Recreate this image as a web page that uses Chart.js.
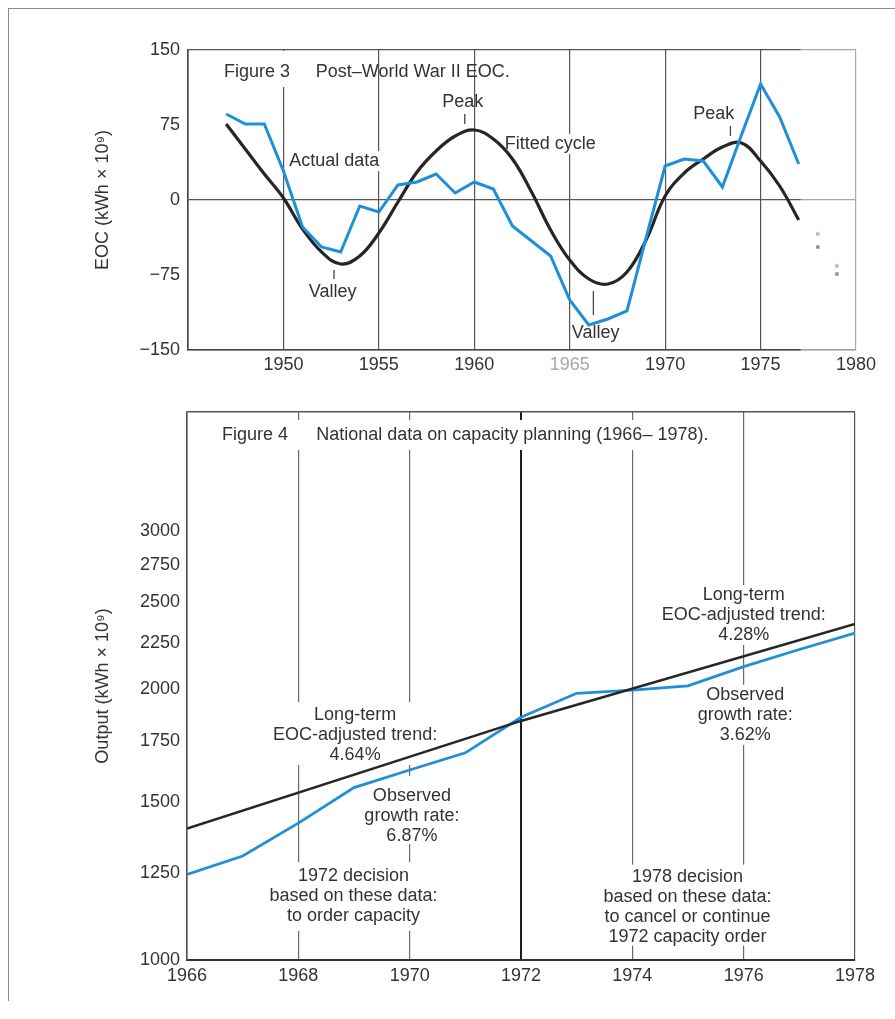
<!DOCTYPE html>
<html>
<head>
<meta charset="utf-8">
<script src="https://cdn.jsdelivr.net/npm/chart.js@4"></script>
<style>
  html, body { margin: 0; padding: 0; background: #fff; }
  body { width: 895px; height: 1019px; position: relative; overflow: hidden; }
  #frame { position: absolute; left: 8px; top: 8px; width: 900px; height: 992px;
           border-top: 1.5px solid #8c8c8c; border-left: 1.5px solid #8c8c8c; }
  #eocWrap { position: absolute; left: 0; top: 0; width: 895px; height: 390px; }
  #outWrap { position: absolute; left: 0; top: 390px; width: 895px; height: 629px; }
  canvas { display: block; }
</style>
</head>
<body>
<div id="frame"></div>
<div id="eocWrap"><canvas id="eoc" width="895" height="390"></canvas></div>
<div id="outWrap"><canvas id="output" width="895" height="629"></canvas></div>
<script>
// ---- Figure 3: excess output capacity (EOC), actual vs fitted cycle ----
const eocYears = [1947, 1948, 1949, 1950, 1951, 1952, 1953, 1954, 1955, 1956, 1957,
                  1958, 1959, 1960, 1961, 1962, 1963, 1964, 1965, 1966, 1967, 1968,
                  1969, 1970, 1971, 1972, 1973, 1974, 1975, 1976, 1977];
const eocActual = [86, 76, 76, 29, -27, -47, -52, -6, -12, 15, 18,
                   26, 7, 18, 11, -26, -41, -56, -100, -125, -119, -111,
                   -38, 34, 41, 39, 13, 65, 116, 83, 36];
const eocFitted = [76, 51, 26, 2, -29, -52, -64, -56, -33, -2, 28,
                   49, 64, 70, 61, 41, 8, -30, -60, -79, -84, -72,
                   -40, 4, 27, 41, 53, 57, 39, 14, -20];
const eocLaterYears = [1978, 1979];
const eocLaterActual = [-34, -66];
const eocLaterFitted = [-47, -74];
const eocYTicks = [-150, -75, 0, 75, 150];
const eocXTicks = [1945, 1950, 1955, 1960, 1965, 1970, 1975, 1980];

// ---- Figure 4: national output, observed vs long-term trend ----
const outYears = [1966, 1967, 1968, 1969, 1970, 1971, 1972, 1973, 1974, 1975, 1976, 1977, 1978];
const outObserved = [1245, 1305, 1420, 1555, 1627, 1700, 1862, 1980, 1996, 2018, 2120, 2215, 2310];
const trendYears = [1966, 1972, 1978];
const trendValues = [1400, 1845, 2365];
const outYTicks = [1000, 1250, 1500, 1750, 2000, 2250, 2500, 2750, 3000];
const outXTicks = [1966, 1968, 1970, 1972, 1974, 1976, 1978];
const outTop = 4070;

const FONT = "'Liberation Sans', Arial, sans-serif";
const INK = '#333333';
const BLUE = '#1f8fd8';
const DARK = '#262626';
const SIZE = 18;

Chart.defaults.font.family = FONT;
Chart.defaults.font.size = SIZE;
Chart.defaults.font.weight = 'normal';
Chart.defaults.color = INK;

const pts = (xs, ys) => xs.map((v, i) => ({ x: v, y: ys[i] }));

// Text notes with optional white backing, plus short pointer strokes
const notesPlugin = {
  id: 'notes',
  beforeDatasetsDraw(chart, args, opts) {
    const { ctx } = chart;
    const x = chart.scales.x, y = chart.scales.y;
    const lh = opts.lineHeight || 20;
    ctx.save();
    ctx.font = `normal ${opts.size || SIZE}px ${FONT}`;
    ctx.textBaseline = 'middle';
    const placed = (opts.notes || []).map(n => {
      const px = x.getPixelForValue(n.x), py = y.getPixelForValue(n.y);
      const w = Math.max(...n.lines.map(s => ctx.measureText(s).width));
      const left = n.align === 'left' ? px : px - w / 2;
      return { n, px, py, w, left };
    });
    ctx.fillStyle = '#fff';
    for (const p of placed) {
      if (!p.n.pad) continue;
      const [t, r, b, l] = p.n.pad;
      ctx.fillRect(p.left - l, p.py - t, p.w + l + r, (p.n.lines.length - 1) * lh + t + b);
    }
    ctx.strokeStyle = '#444';
    ctx.lineWidth = 1.3;
    for (const m of opts.marks || []) {
      const px = x.getPixelForValue(m.x);
      ctx.beginPath();
      ctx.moveTo(px, y.getPixelForValue(m.y1));
      ctx.lineTo(px, y.getPixelForValue(m.y2));
      ctx.stroke();
    }
    ctx.fillStyle = INK;
    for (const p of placed) {
      ctx.textAlign = p.n.align === 'left' ? 'left' : 'center';
      p.n.lines.forEach((s, i) => ctx.fillText(s, p.px, p.py + i * lh));
    }
    ctx.restore();
  },
  afterDatasetsDraw(chart, args, opts) {
    if (opts.fadeFrom === undefined) return;
    const { ctx, chartArea } = chart;
    const fx = chart.scales.x.getPixelForValue(opts.fadeFrom);
    ctx.save();
    ctx.fillStyle = 'rgba(255,255,255,0.5)';
    ctx.fillRect(fx, chartArea.top - 2, chartArea.right - fx + 3, chartArea.bottom - chartArea.top + 4);
    ctx.restore();
  }
};

new Chart(document.getElementById('eoc'), {
  type: 'line',
  data: {
    datasets: [
      { data: pts(eocYears, eocActual), borderColor: BLUE, borderWidth: 3, pointRadius: 0, tension: 0 },
      { data: pts(eocYears, eocFitted), borderColor: DARK, borderWidth: 3.2, pointRadius: 0, tension: 0.4 },
      { data: pts(eocLaterYears, eocLaterActual), showLine: false, pointStyle: 'rect', pointRadius: 2.5,
        backgroundColor: '#3f86c4', borderWidth: 0 },
      { data: pts(eocLaterYears, eocLaterFitted), showLine: false, pointStyle: 'rect', pointRadius: 2.5,
        backgroundColor: '#222', borderWidth: 0 }
    ]
  },
  options: {
    responsive: false,
    devicePixelRatio: 1,
    animation: false,
    events: [],
    layout: { padding: { top: 50, right: 39, left: 0, bottom: 0 } },
    plugins: {
      legend: { display: false },
      tooltip: { enabled: false },
      notes: {
        notes: [
          { lines: ['Figure 3'], x: 1946.88, y: 128, align: 'left', pad: [21, 4, 15, 8] },
          { lines: ['Post\u2013World War II EOC.'], x: 1951.69, y: 128, align: 'left' },
          { lines: ['Peak'], x: 1959.4, y: 98 },
          { lines: ['Actual data'], x: 1952.66, y: 39, pad: [10, 3, 10, 3] },
          { lines: ['Valley'], x: 1952.58, y: -92 },
          { lines: ['Fitted cycle'], x: 1963.98, y: 56, pad: [10, 3, 10, 3] },
          { lines: ['Peak'], x: 1972.55, y: 86 },
          { lines: ['Valley'], x: 1966.36, y: -133 }
        ],
        marks: [
          { x: 1959.5, y1: 86, y2: 76 },
          { x: 1952.65, y1: -70, y2: -79 },
          { x: 1973.42, y1: 74, y2: 64 },
          { x: 1966.24, y1: -91, y2: -115 }
        ],
        fadeFrom: 1977.1
      }
    },
    scales: {
      x: {
        type: 'linear', min: 1945, max: 1980,
        afterBuildTicks: s => { s.ticks = eocXTicks.map(v => ({ value: v })); },
        afterFit: s => { s.height = 40; },
        ticks: {
          autoSkip: false, maxRotation: 0, padding: 4,
          color: c => (c.tick && c.tick.value === 1965) ? '#a8a8a8' : INK,
          callback: v => v === 1945 ? '' : String(v)
        },
        grid: { color: '#555', lineWidth: 1.2, drawTicks: false },
        border: { display: true, color: '#444', width: 1.6 }
      },
      y: {
        type: 'linear', min: -150, max: 150,
        afterBuildTicks: s => { s.ticks = eocYTicks.map(v => ({ value: v })); },
        afterFit: s => { s.width = 188; },
        ticks: {
          padding: 8,
          callback: v => v < 0 ? '\u2212' + Math.abs(v) : String(v)
        },
        grid: {
          drawTicks: false, lineWidth: 1.2,
          color: c => (c.tick && [0, 150, -150].includes(c.tick.value)) ? '#555' : 'rgba(0,0,0,0)'
        },
        border: { display: true, color: '#444', width: 1.6 },
        title: {
          display: true, text: 'EOC (kWh \u00d7 10\u2079)', color: INK,
          padding: { top: 92, bottom: 0 }
        }
      }
    }
  },
  plugins: [notesPlugin]
});

new Chart(document.getElementById('output'), {
  type: 'line',
  data: {
    datasets: [
      { data: pts(trendYears, trendValues), borderColor: DARK, borderWidth: 2.6, pointRadius: 0, tension: 0 },
      { data: pts(outYears, outObserved), borderColor: BLUE, borderWidth: 2.8, pointRadius: 0, tension: 0 }
    ]
  },
  options: {
    responsive: false,
    devicePixelRatio: 1,
    animation: false,
    events: [],
    layout: { padding: { top: 22, right: 40, left: 0, bottom: 0 } },
    plugins: {
      legend: { display: false },
      tooltip: { enabled: false },
      notes: {
        lineHeight: 20,
        notes: [
          { lines: ['Figure 4'], x: 1966.63, y: 3837, align: 'left', pad: [15, 30, 15, 7] },
          { lines: ['National data on capacity planning (1966\u2013 1978).'], x: 1968.32, y: 3837,
            align: 'left', pad: [15, 6, 15, 4] },
          { lines: ['Long-term', 'EOC-adjusted trend:', '4.28%'], x: 1976.0, y: 2547, pad: [10, 4, 10, 4] },
          { lines: ['Observed', 'growth rate:', '3.62%'], x: 1976.03, y: 1972, pad: [10, 4, 10, 4] },
          { lines: ['1978 decision', 'based on these data:', 'to cancel or continue', '1972 capacity order'],
            x: 1974.99, y: 1238, pad: [12, 4, 9, 4] },
          { lines: ['Long-term', 'EOC-adjusted trend:', '4.64%'], x: 1969.02, y: 1873, pad: [13, 4, 10, 4] },
          { lines: ['Observed', 'growth rate:', '6.87%'], x: 1970.04, y: 1522, pad: [20, 4, 8, 4] },
          { lines: ['1972 decision', 'based on these data:', 'to order capacity'], x: 1968.99, y: 1240,
            pad: [14, 4, 15, 4] }
        ]
      }
    },
    scales: {
      x: {
        type: 'linear', min: 1966, max: 1978,
        afterBuildTicks: s => { s.ticks = outXTicks.map(v => ({ value: v })); },
        afterFit: s => { s.height = 59; },
        ticks: { autoSkip: false, maxRotation: 0, padding: 5, callback: v => String(v) },
        grid: {
          drawTicks: false,
          color: c => {
            const v = c.tick && c.tick.value;
            if (v === 1972) return '#1e1e1e';
            if (v === 1966 || v === 1978) return '#555';
            return '#6a6a6a';
          },
          lineWidth: c => (c.tick && c.tick.value === 1972) ? 2 : 1.2
        },
        border: { display: true, color: '#333', width: 2 }
      },
      y: {
        type: 'logarithmic', min: 1000, max: outTop,
        afterBuildTicks: s => { s.ticks = outYTicks.concat([outTop]).map(v => ({ value: v })); },
        afterFit: s => { s.width = 187; },
        ticks: {
          padding: 7,
          callback: v => v === outTop ? '' : String(v)
        },
        grid: {
          drawTicks: false, lineWidth: 1.4,
          color: c => (c.tick && c.tick.value === outTop) ? '#555' : 'rgba(0,0,0,0)'
        },
        border: { display: true, color: '#555', width: 1.6 },
        title: {
          display: true, text: 'Output (kWh \u00d7 10\u2079)', color: INK,
          padding: { top: 92, bottom: 0 }
        }
      }
    }
  },
  plugins: [notesPlugin]
});
</script>
</body>
</html>
